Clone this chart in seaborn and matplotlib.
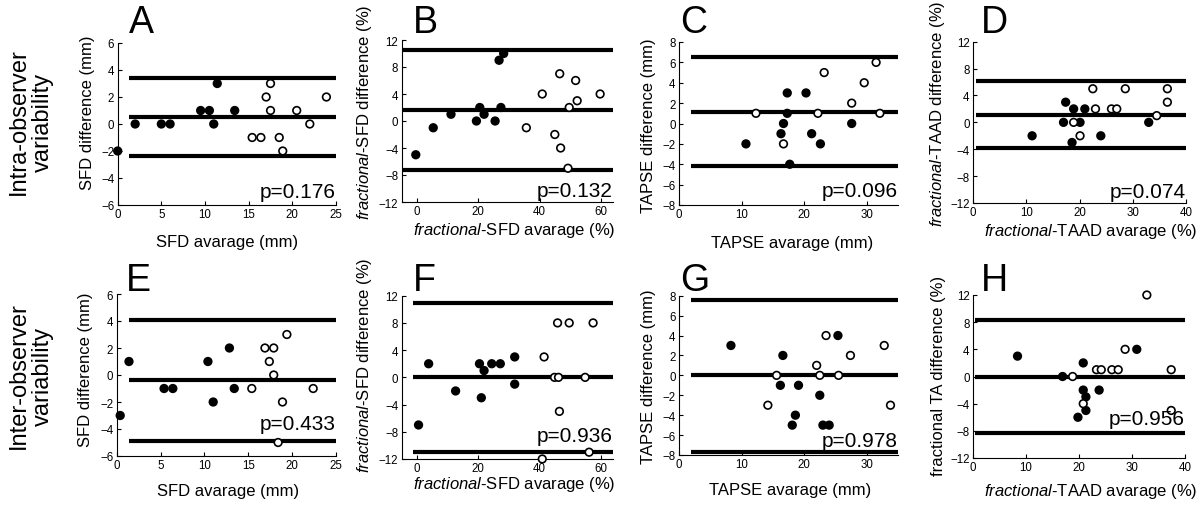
import matplotlib
matplotlib.use("Agg")
import matplotlib.pyplot as plt
import pandas as pd
import seaborn as sns

# ---------------- data ----------------
# Panel A: intra-observer SFD (mm)
a_fill_avg = [0, 2, 5, 6, 9.5, 10.5, 11, 11.4, 13.4]
a_fill_diff = [-2, 0, 0, 0, 1, 1, 0, 3, 1]
a_open_avg = [15.4, 16.4, 17, 17.5, 17.5, 18.5, 18.9, 20.5, 22, 23.9]
a_open_diff = [-1, -1, 2, 3, 1, -1, -2, 1, 0, 2]
a_limits = [3.4, 0.5, -2.4]
a_p = "p=0.176"

# Panel B: intra-observer fractional-SFD (%)
b_fill_avg = [-0.4, 5.3, 11.1, 19.4, 20.5, 21.9, 25.5, 26.8, 27.4, 28.3]
b_fill_diff = [-5, -1, 1, 0, 2, 1, 0, 9, 2, 10]
b_open_avg = [35.7, 40.9, 45, 46.6, 46.9, 49.3, 49.7, 51.8, 52.3, 59.8]
b_open_diff = [-1, 4, -2, 7, -4, -7, 2, 6, 3, 4]
b_limits = [10.5, 1.6, -7.2]
b_p = "p=0.132"

# Panel C: intra-observer TAPSE (mm)
c_fill_avg = [10.7, 16.3, 16.7, 17.3, 17.3, 17.7, 20.3, 21.2, 22.6, 27.6]
c_fill_diff = [-2, -1, 0, 3, 1, -4, 3, -1, -2, 0]
c_open_avg = [12.3, 16.7, 22.2, 23.2, 27.6, 29.6, 31.5, 32.1]
c_open_diff = [1, -2, 1, 5, 2, 4, 6, 1]
c_limits = [6.5, 1.1, -4.2]
c_p = "p=0.096"

# Panel D: intra-observer fractional-TAAD (%)
d_fill_avg = [11.1, 17, 17.4, 18.6, 18.9, 20.1, 21, 24, 33]
d_fill_diff = [-2, 0, 3, -3, 2, 0, 2, -2, 0]
d_open_avg = [18.9, 20.1, 22.5, 23, 26, 27, 28.6, 34.5, 36.5, 36.5]
d_open_diff = [0, -2, 5, 2, 2, 2, 5, 1, 5, 3]
d_limits = [6.1, 1.1, -3.8]
d_p = "p=0.074"

# Panel E: inter-observer SFD (mm)
e_fill_avg = [0.4, 1.4, 5.4, 6.4, 10.4, 11, 12.85, 13.4]
e_fill_diff = [-3, 1, -1, -1, 1, -2, 2, -1]
e_open_avg = [15.4, 16.9, 17.4, 17.9, 17.9, 18.4, 18.9, 19.4, 22.4]
e_open_diff = [-1, 2, 1, 2, 0, -5, -2, 3, -1]
e_limits = [4.1, -0.4, -4.9]
e_p = "p=0.433"

# Panel F: inter-observer fractional-SFD (%)
f_fill_avg = [0.5, 3.8, 12.6, 20.4, 21, 21.9, 24.4, 27.2, 31.9, 31.9]
f_fill_diff = [-7, 2, -2, 2, -3, 1, 2, 2, 3, -1]
f_open_avg = [40.9, 41.5, 44.9, 45.9, 46.2, 46.5, 49.7, 54.9, 56.2, 57.5]
f_open_diff = [-12, 3, 0, 8, 0, -5, 8, 0, -11, 8]
f_limits = [11, 0, -11]
f_p = "p=0.936"

# Panel G: inter-observer TAPSE (mm)
g_fill_avg = [8.3, 16.2, 16.6, 18.1, 18.6, 19.1, 22.5, 23, 24, 25.4]
g_fill_diff = [3, -1, 2, -5, -4, -1, -2, -5, -5, 4]
g_open_avg = [14.2, 15.6, 22, 22.5, 23.5, 25.5, 27.4, 32.8, 33.8]
g_open_diff = [-3, 0, 1, 0, 4, 0, 2, 3, -3]
g_limits = [7.6, 0, -7.7]
g_p = "p=0.978"

# Panel H: inter-observer fractional TA (%)
h_fill_avg = [8.4, 16.9, 19.8, 20.8, 20.8, 21.3, 21.3, 23.8, 30.9]
h_fill_diff = [3, 0, -6, 2, -2, -3, -5, -2, 4]
h_open_avg = [18.8, 20.8, 23.3, 24.2, 26.2, 27.4, 28.7, 32.8, 37.4, 37.4]
h_open_diff = [0, -4, 1, 1, 1, 1, 4, 12, 1, -5]
h_limits = [8.3, 0, -8.3]
h_p = "p=0.956"

letters = ["A", "B", "C", "D", "E", "F", "G", "H"]
row_labels = ["Intra-observer\nvariability", "Inter-observer\nvariability"]

FR = r"$\mathit{fractional}$"
x_labels = ["SFD avarage (mm)", FR + "-SFD avarage (%)", "TAPSE avarage (mm)",
            FR + "-TAAD avarage (%)"] * 2
y_labels = ["SFD difference (mm)", FR + "-SFD difference (%)", "TAPSE difference (mm)",
            FR + "-TAAD difference (%)",
            "SFD difference (mm)", FR + "-SFD difference (%)", "TAPSE difference (mm)",
            "fractional TA difference (%)"]

x_ranges = [(0, 25), (-5, 64), (0, 35), (0, 40)] * 2
x_tick_vals = [[0, 5, 10, 15, 20, 25], [0, 20, 40, 60], [0, 10, 20, 30], [0, 10, 20, 30, 40]] * 2
y_ranges = [(-6, 6), (-12, 12), (-8, 8), (-12, 12)] * 2
y_tick_vals = [list(range(-6, 7, 2)), list(range(-12, 13, 4)),
               list(range(-8, 9, 2)), list(range(-12, 13, 4))] * 2

# ---------------- layout (pixels in the 1200x506 figure) ----------------
W, H = 1200, 506
ax_rects = [  # left, top, right, bottom
    (117.7, 44, 336, 206), (401.7, 41, 613, 203), (679, 43, 898, 206), (973, 42.7, 1186, 204),
    (116.7, 295, 336, 457), (401.7, 296.7, 613, 460), (679, 296.7, 898, 456), (973, 296, 1185, 459),
]
line_starts = [1.3, -4.7, 1.9, 0.6, 1.35, -1.3, 1.9, 0.3]
p_ypos = [0.086, 0.074, 0.086, 0.074, 0.198, 0.143, 0.088, 0.24]
xlab_pos = [(0.5, -0.228), (0.533, -0.172), (0.516, -0.227), (0.554, -0.168),
            (0.507, -0.216), (0.533, -0.152), (0.509, -0.214), (0.554, -0.2)]
ylab_pos = [(-0.14, 0.574), (-0.175, 0.56), (-0.14, 0.49), (-0.165, 0.56),
            (-0.14, 0.537), (-0.175, 0.58), (-0.14, 0.50), (-0.165, 0.51)]
letter_pos = [(129, 33), (413, 33), (680, 33), (981, 33),
              (126, 291), (413, 291), (680, 291), (981, 291)]
row_label_pos = [(31, 122), (31, 376)]

panels = [
    (a_fill_avg, a_fill_diff, a_open_avg, a_open_diff, a_limits, a_p),
    (b_fill_avg, b_fill_diff, b_open_avg, b_open_diff, b_limits, b_p),
    (c_fill_avg, c_fill_diff, c_open_avg, c_open_diff, c_limits, c_p),
    (d_fill_avg, d_fill_diff, d_open_avg, d_open_diff, d_limits, d_p),
    (e_fill_avg, e_fill_diff, e_open_avg, e_open_diff, e_limits, e_p),
    (f_fill_avg, f_fill_diff, f_open_avg, f_open_diff, f_limits, f_p),
    (g_fill_avg, g_fill_diff, g_open_avg, g_open_diff, g_limits, g_p),
    (h_fill_avg, h_fill_diff, h_open_avg, h_open_diff, h_limits, h_p),
]

# ---------------- styling ----------------
sns.set_theme(style="ticks")
plt.rcParams["font.family"] = ["Liberation Sans", "DejaVu Sans"]
plt.rcParams["mathtext.fontset"] = "custom"
plt.rcParams["mathtext.rm"] = "Liberation Sans"
plt.rcParams["mathtext.it"] = "Liberation Sans:italic"
plt.rcParams["axes.linewidth"] = 0.8
plt.rcParams["axes.edgecolor"] = "black"

fig = plt.figure(figsize=(W / 100, H / 100), dpi=100)
fig.patch.set_facecolor("white")


def px_rect(l, t, r, b):
    return [l / W, 1 - b / H, (r - l) / W, (b - t) / H]


for i, (fx, fy, ox, oy, lim, ptxt) in enumerate(panels):
    ax = fig.add_axes(px_rect(*ax_rects[i]))
    ax.set_facecolor("white")
    df = pd.DataFrame({
        "avg": fx + ox,
        "diff": fy + oy,
        "grp": ["filled"] * len(fx) + ["open"] * len(ox),
    })
    ax.hlines(lim, line_starts[i], x_ranges[i][1], colors="black", linewidth=3, zorder=2)
    sns.scatterplot(data=df, x="avg", y="diff", hue="grp",
                    palette={"filled": "black", "open": "white"},
                    edgecolor="black", linewidth=1.2, s=30, legend=False,
                    ax=ax, zorder=3, clip_on=False)
    ax.set_xlim(*x_ranges[i])
    ax.set_ylim(*y_ranges[i])
    ax.set_xticks(x_tick_vals[i])
    ax.set_yticks(y_tick_vals[i])
    sns.despine(ax=ax)
    ax.tick_params(direction="in", length=3, width=0.8, labelsize=8.3, pad=2.5,
                   colors="black")
    ax.set_xlabel(x_labels[i], fontsize=12, va="center", color="black")
    ax.xaxis.set_label_coords(*xlab_pos[i])
    ax.set_ylabel(y_labels[i], fontsize=12, va="center", color="black")
    ax.yaxis.set_label_coords(*ylab_pos[i])
    ax.text(1.0, p_ypos[i], ptxt, transform=ax.transAxes, ha="right", va="center",
            fontsize=15, color="black")
    lx, ly = letter_pos[i]
    fig.text(lx / W, 1 - ly / H, letters[i], fontsize=27, ha="left", va="baseline",
             color="black")

for (rx, ry), txt in zip(row_label_pos, row_labels):
    fig.text(rx / W, 1 - ry / H, txt, rotation=90, ha="center", va="center",
             multialignment="center", fontsize=17, linespacing=1.1, color="black")

fig.savefig("out.png", dpi=100, facecolor="white")
